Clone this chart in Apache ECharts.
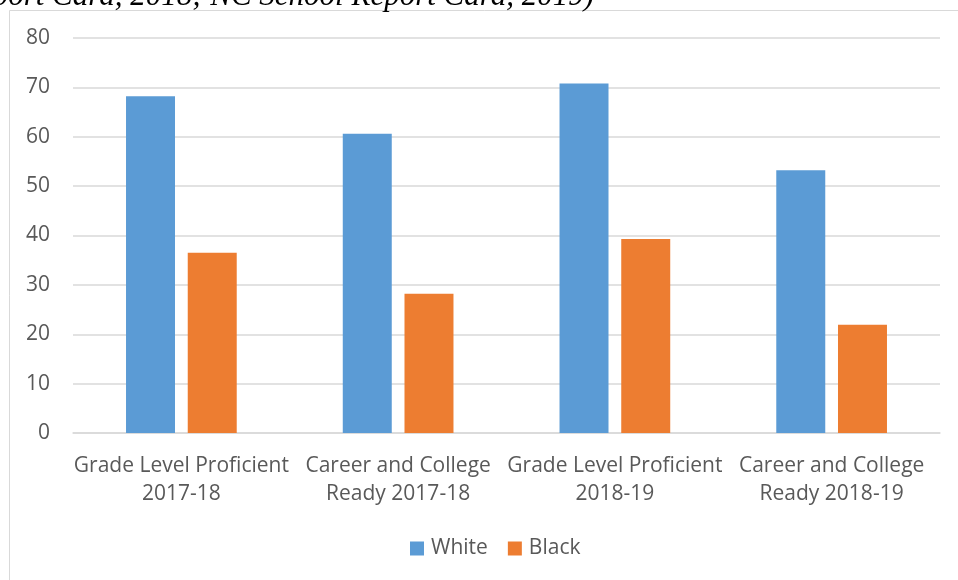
<!DOCTYPE html>
<html>
<head>
<meta charset="utf-8">
<script src="https://cdn.jsdelivr.net/npm/echarts@6/dist/echarts.min.js"></script>
<style>
  html, body { margin: 0; padding: 0; background: #fff; }
  #chart { width: 958px; height: 580px; }
</style>
</head>
<body>
<div id="chart"></div>
<script>
const categories = [
  'Grade Level Proficient\n2017-18',
  'Career and College\nReady 2017-18',
  'Grade Level Proficient\n2018-19',
  'Career and College\nReady 2018-19'
];
const whiteValues = [68.2, 60.6, 70.8, 53.2];
const blackValues = [36.5, 28.2, 39.3, 21.9];
const yTicks = { min: 0, max: 80, interval: 10 };
const captionText = '(NC School Report Card, 2018; NC School Report Card, 2019)';

const labelFont = '"Open Sans", "Noto Sans", sans-serif';
const textColor = '#595959';
const lineColor = '#d9d9d9';

const chart = echarts.init(document.getElementById('chart'));

chart.setOption({
  backgroundColor: '#fff',
  animation: false,
  graphic: [
    {
      type: 'rect',
      silent: true,
      shape: { x: 9.5, y: 10.5, width: 1000, height: 1000 },
      style: { fill: '#fff', stroke: lineColor, lineWidth: 1 },
      z: -1
    },
    {
      type: 'text',
      right: 364,
      top: -19,
      style: {
        text: captionText,
        font: 'italic 31px "Liberation Serif", "DejaVu Serif", serif',
        fill: '#000'
      }
    }
  ],
  grid: {
    left: 73,
    right: 18,
    top: 38,
    bottom: 147
  },
  legend: {
    left: 405,
    top: 533,
    itemWidth: 14,
    itemHeight: 14,
    itemGap: 20,
    icon: 'rect',
    textStyle: { color: textColor, fontFamily: labelFont, fontSize: 21, padding: [0, 0, 0, 2] },
    data: ['White', 'Black']
  },
  xAxis: {
    type: 'category',
    data: categories,
    axisTick: { show: false },
    axisLine: { lineStyle: { color: lineColor, width: 1.5 } },
    axisLabel: {
      interval: 0,
      color: textColor,
      fontFamily: labelFont,
      fontSize: 21,
      lineHeight: 28,
      margin: 19
    }
  },
  yAxis: {
    type: 'value',
    min: yTicks.min,
    max: yTicks.max,
    interval: yTicks.interval,
    axisLine: { show: false },
    axisTick: { show: false },
    splitLine: { lineStyle: { color: lineColor, width: 1.5 } },
    axisLabel: {
      color: textColor,
      fontFamily: labelFont,
      fontSize: 21,
      margin: 23
    }
  },
  series: [
    {
      name: 'White',
      type: 'bar',
      data: whiteValues,
      barWidth: '22.6%',
      barGap: '26%',
      itemStyle: { color: '#5b9bd5' }
    },
    {
      name: 'Black',
      type: 'bar',
      data: blackValues,
      barWidth: '22.6%',
      itemStyle: { color: '#ed7d31' }
    }
  ]
});
</script>
</body>
</html>
